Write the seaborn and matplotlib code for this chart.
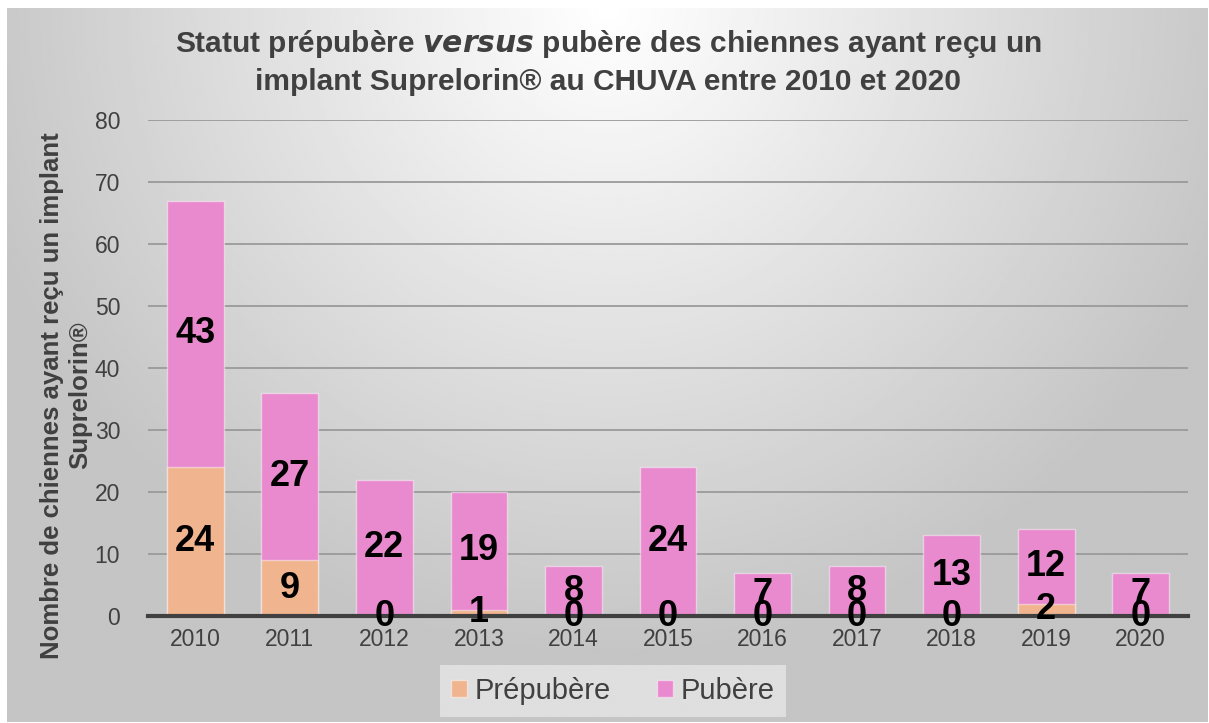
import numpy as np
import pandas as pd
import matplotlib
matplotlib.use("Agg")
import matplotlib.pyplot as plt
import seaborn as sns
from matplotlib.patches import Patch

years = ["2010", "2011", "2012", "2013", "2014", "2015", "2016", "2017", "2018", "2019", "2020"]
prepubere = [24, 9, 0, 1, 0, 0, 0, 0, 0, 2, 0]
pubere = [43, 27, 22, 19, 8, 24, 7, 8, 13, 12, 7]
yticks = [0, 10, 20, 30, 40, 50, 60, 70, 80]

sns.set_theme(style="white")
plt.rcParams['font.family'] = ['Liberation Sans', 'DejaVu Sans']

W, H = 1209, 723
fig = plt.figure(figsize=(W / 100, H / 100), dpi=100)
fig.patch.set_facecolor("white")

# radial gradient background
bg = fig.add_axes([7 / W, 1 / H, 1 - 9 / W, 1 - 9 / H])
yy, xx = np.mgrid[0:300, 0:500]
cx, cy = 250, 0
r = np.sqrt(((xx - cx) / 500.0) ** 2 + ((yy - cy) / 300.0 * 0.6) ** 2)
val = np.clip(1.0 - 0.42 * r, 0.77, 1.0)
bg.imshow(val, cmap="gray", vmin=0, vmax=1, aspect="auto", interpolation="bilinear")
bg.set_axis_off()

ax = fig.add_axes([148 / W, 1 - 616 / H, 1040 / W, 496 / H])
ax.patch.set_alpha(0)

df = pd.DataFrame({"year": years, "pre": prepubere, "pub": pubere})
df["total"] = df["pre"] + df["pub"]

c_pre = "#F0B48E"
c_pub = "#E98ACF"
edge = (1, 1, 1, 0.45)

sns.barplot(data=df, x="year", y="total", color=c_pub, width=0.6, ax=ax,
            saturation=1, edgecolor=edge, linewidth=1.0, zorder=3)
sns.barplot(data=df, x="year", y="pre", color=c_pre, width=0.6, ax=ax,
            saturation=1, edgecolor=edge, linewidth=1.0, zorder=4)

ax.set_ylim(0, 80)
ax.set_xlim(-0.5, len(years) - 0.5)
ax.set_yticks(yticks)
ax.yaxis.grid(True, color="#9a9a9a", linewidth=1.3, zorder=0)
ax.set_axisbelow(True)
for s in ["top", "right", "left"]:
    ax.spines[s].set_visible(False)
ax.spines["bottom"].set_color("#404040")
ax.spines["bottom"].set_linewidth(3)
ax.spines["bottom"].set_zorder(5)
ax.tick_params(axis="both", length=0, labelsize=16.5, labelcolor="#404040")
ax.tick_params(axis="x", pad=9)
ax.tick_params(axis="y", pad=20)
ax.set_xlabel("")
ax.set_ylabel("Nombre de chiennes ayant reçu un implant\nSuprelorin®",
              fontsize=18.5, fontweight="bold", color="#404040")
ax.yaxis.set_label_coords(-0.054, 0.445)

for i, (p, q) in enumerate(zip(prepubere, pubere)):
    ypre = p / 2 if p > 0 else 0
    ax.text(i, ypre, str(p), ha="center", va="center", fontsize=26,
            fontweight="bold", color="black", zorder=6)
    ax.text(i, p + q / 2, str(q), ha="center", va="center", fontsize=26,
            fontweight="bold", color="black", zorder=6)

fig.text(0.503, 1 - 62 / H,
         "Statut prépubère $\\mathbfit{versus}$ pubère des chiennes ayant reçu un\nimplant Suprelorin® au CHUVA entre 2010 et 2020",
         ha="center", va="center", fontsize=21.5, fontweight="bold",
         color="#404040", linespacing=1.35)

handles = [Patch(facecolor=c_pre, edgecolor=edge),
           Patch(facecolor=c_pub, edgecolor=edge)]
leg = fig.legend(handles, ["Prépubère", "Pubère"], loc="center",
                 bbox_to_anchor=(613 / W, 1 - 691 / H), ncol=2, frameon=True,
                 fontsize=21, handlelength=0.55, handleheight=0.55,
                 handletextpad=0.25, columnspacing=1.6, borderpad=0.4,
                 borderaxespad=0, fancybox=False)
leg.get_frame().set_facecolor("#e2e2e2")
leg.get_frame().set_edgecolor("none")
leg.get_frame().set_alpha(0.9)
for t in leg.get_texts():
    t.set_color("#404040")

fig.savefig("out.png", dpi=100)
